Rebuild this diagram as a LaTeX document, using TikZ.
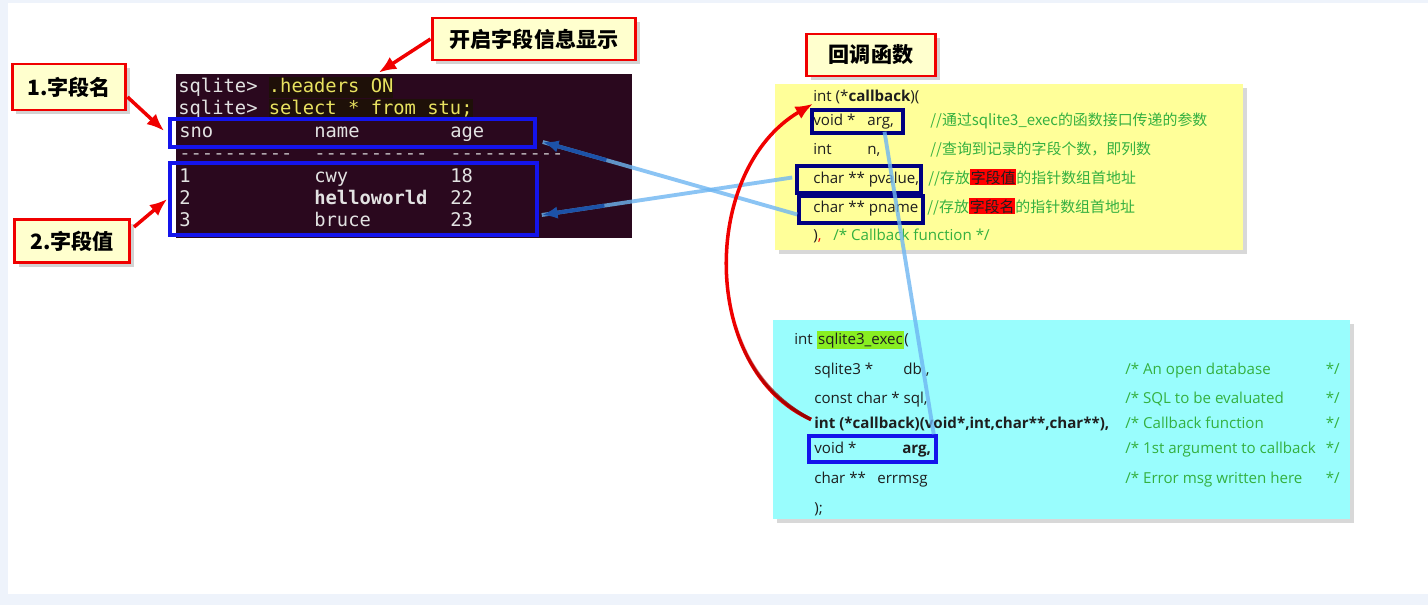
\documentclass[tikz,border=0pt]{standalone}
\usepackage{fontspec}
\setmonofont{DejaVu Sans Mono}
\newfontfamily\cjk{Noto Sans CJK SC}
\newfontfamily\codelatin{Open Sans}
\definecolor{FrameBg}{RGB}{238,243,251}
\definecolor{TermBg}{RGB}{42,8,30}
\definecolor{TermText}{RGB}{226,226,226}
\definecolor{CmdYellow}{RGB}{232,226,96}
\definecolor{CmdShade}{RGB}{30,16,8}
\definecolor{TermBlue}{RGB}{20,20,235}
\definecolor{NoteRed}{RGB}{240,0,0}
\definecolor{NoteFill}{RGB}{255,255,206}
\definecolor{CbYellow}{RGB}{255,255,153}
\definecolor{ExecCyan}{RGB}{153,253,253}
\definecolor{Navy}{RGB}{0,0,128}
\definecolor{CodeText}{RGB}{30,30,30}
\definecolor{CmtGreen}{RGB}{52,176,64}
\definecolor{HlRed}{RGB}{255,0,0}
\definecolor{LimeHl}{RGB}{136,238,34}
\definecolor{LinkBlue}{RGB}{110,182,242}
\definecolor{LinkDark}{RGB}{28,82,168}
\definecolor{DarkRed}{RGB}{150,0,0}
\usepackage{tikz}
\usetikzlibrary{positioning,calc,fit,shadows,arrows.meta,fadings}
\tikzset{>=latex}
\newcommand{\termfont}{\ttfamily\fontsize{10.7}{12}\selectfont}
\newcommand{\codefont}{\codelatin\fontsize{8.6}{10}\selectfont}
\newcommand{\cjkcodefont}{\cjk\fontsize{8.5}{10}\selectfont}
\newcommand{\notefont}{\cjk\fontsize{12}{14}\selectfont\bfseries}
\newcommand{\redhl}[1]{{\setlength{\fboxsep}{0.5pt}\colorbox{HlRed}{#1}}}
\newcommand{\cmdhl}[1]{{\setlength{\fboxsep}{0pt}\colorbox{CmdShade}{\strut\textcolor{CmdYellow}{#1}}}}
\newcommand{\limehl}[1]{{\setlength{\fboxsep}{0.8pt}\colorbox{LimeHl}{#1}}}
\tikzset{
    note/.style={draw=NoteRed, line width=1.7pt, fill=NoteFill, inner sep=0pt, font=\notefont,
        drop shadow={opacity=.35, shadow xshift=2.5pt, shadow yshift=-2.5pt}},
    noteline/.style={NoteRed, line width=2pt, -{Latex[length=10pt,width=8pt]}},
    termline/.style={anchor=base west, inner sep=0pt, font=\termfont, text=TermText},
    hlbox/.style={draw=TermBlue, line width=2pt, inner sep=0pt},
    argbox/.style={draw=Navy, line width=2pt, inner sep=0pt},
    codebox/.style={inner sep=0pt, drop shadow={opacity=.3, shadow xshift=2pt, shadow yshift=-2pt}},
    code/.style={anchor=base west, inner sep=0pt, font=\codefont, text=CodeText},
    cmt/.style={anchor=base west, inner sep=0pt, font=\codefont, text=CmtGreen},
    cjkcmt/.style={cmt, font=\cjkcodefont},
    link/.style={LinkBlue, line width=2.2pt, opacity=.8},
    linktip/.style={LinkDark, line width=2.2pt, -{Latex[length=9pt,width=7pt]}},
}
\begin{document}
\begin{tikzpicture}[x=0.02cm, y=-0.02cm]
    \fill[FrameBg] (0,0) rectangle (1428,605);
    \fill[white] (8,3) rectangle (1428,594);
    \useasboundingbox (0,0) rectangle (1428,605);

    \node[fit={(176,74) (632,238)}, fill=TermBg, inner sep=0pt] (term) {};
    \node[termline] (cmd1) at (178,92) {sqlite> \cmdhl{.headers ON}};
    \node[termline] (cmd2) at (178,114) {sqlite> \cmdhl{select * from stu;}};
    \foreach \x/\t in {179/sno, 314/name, 450/age}
        \node[termline] (col-\t) at (\x,137) {\t};
    \foreach \x [count=\i] in {179,314,450}
        \node[termline, text=TermText!80!TermBg] (dash\i) at (\x,159) {----------};
    \foreach \n/\nm/\ag [count=\i] in {1/cwy/18, 2/\textbf{helloworld}/22, 3/bruce/23}{
        \node[termline] (sno\i) at (179,{182+22*(\i-1)}) {\n};
        \node[termline] (name\i) at (314,{182+22*(\i-1)}) {\nm};
        \node[termline] (age\i) at (450,{182+22*(\i-1)}) {\ag};
    }
    \fill[TermText] (270,233) rectangle (281,236);
    \node[hlbox, fit={(170,119) (535,147)}] (hdrbox) {};
    \node[hlbox, fit={(170,163) (537,235)}] (valbox) {};

    \node[note, minimum width=4.08cm, minimum height=0.84cm] (shownote) at (534,39) {开启字段信息显示};
    \node[note, minimum width=2.28cm, minimum height=0.92cm] (namenote) at (69,87) {1.字段名};
    \node[note, minimum width=2.3cm, minimum height=0.86cm] (valnote) at (72,241) {2.字段值};
    \node[note, minimum width=2.58cm, minimum height=0.84cm] (cbnote) at (871,55) {回调函数};
    \coordinate (showtip) at ($(term.north west)+(203,-1)$);
    \coordinate (nametip) at ($(hdrbox.west)+(-4,-2)$);
    \coordinate (valtip) at ($(valbox.west)+(-1,0)$);
    \draw[noteline] (shownote.west) -- (showtip);
    \draw[noteline] ($(namenote.east)+(0,10)$) -- (nametip);
    \draw[noteline] ($(valnote.north east)+(3,9)$) -- (valtip);

    \node[codebox, fit={(775,84) (1243,250)}, fill=CbYellow] (cbbox) {};
    \node[code] (cb1) at (813,101) {int (*\textbf{callback})(};
    \node[code] (cb2) at (813,125) {void *};
    \node[code] (cb2b) at (867,125) {arg,};
    \node[code] (cb3) at (813,154) {int};
    \node[code] (cb3b) at (867,154) {n,};
    \node[code] (cb4) at (813,183) {char ** pvalue,};
    \node[code] (cb5) at (813,212) {char ** pname};
    \node[code] (cb6) at (813,240) {)\textcolor{HlRed}{,}};
    \node[cjkcmt] (cbc2) at (930,125) {//通过sqlite3\_exec的函数接口传递的参数};
    \node[cjkcmt] (cbc3) at (930,154) {//查询到记录的字段个数，即列数};
    \node[cjkcmt] (cbc4) at (928,183) {//存放\redhl{\textcolor{CodeText}{字段值}}的指针数组首地址};
    \node[cjkcmt] (cbc5) at (927,212) {//存放\redhl{\textcolor{CodeText}{字段名}}的指针数组首地址};
    \node[cmt] (cbc6) at (833,240) {/* Callback function */};
    \node[argbox, fit={(812,110) (903,133)}] (argy) {};
    \node[argbox, fit={(797,166) (921,193)}] (pvalbox) {};
    \node[argbox, fit={(799,196) (923,223)}] (pnamebox) {};

    \node[codebox, fit={(773,320) (1350,519)}, fill=ExecCyan] (execbox) {};
    \node[code] (ex1) at (794,344) {int \limehl{sqlite3\_exec}(};
    \node[code] (ex2) at (814,374) {sqlite3 *};
    \node[code] (ex2b) at (903,374) {db ,};
    \node[code] (ex3) at (814,403) {const char * sql,};
    \node[code] (ex4) at (814,428) {\textbf{int (*callback)(void*,int,char**,char**),}};
    \node[code] (ex5) at (814,453) {void *};
    \node[code] (ex5b) at (902,453) {\textbf{arg,}};
    \node[code] (ex6) at (814,483) {char **};
    \node[code] (ex6b) at (877,483) {errmsg};
    \node[code] (ex7) at (814,513) {);};
    \foreach \y/\t [count=\i] in {374/An open database, 403/SQL to be evaluated, 428/Callback function,
        453/1st argument to callback, 483/Error msg written here}{
        \node[cmt] (exc\i) at (1125,\y) {/* \t};
        \node[cmt, anchor=base east] (exe\i) at (1340,\y) {*/};
    }
    \node[hlbox, fit={(809,436) (936,462)}] (argc) {};

    \coordinate (pnamefoot) at ($(pnamebox.west)+(0,5)$);
    \coordinate (pvalfoot) at ($(pvalbox.west)+(-3,-2)$);
    \coordinate (hdrtip) at ($(hdrbox.east)+(6,9)$);
    \coordinate (rowtip) at ($(valbox.east)+(3,16)$);
    \draw[link] (pnamefoot) -- (hdrtip);
    \draw[link] (pvalfoot) -- (rowtip);
    \draw[linktip] ($(pnamefoot)!0.75!(hdrtip)$) -- (hdrtip);
    \draw[linktip] ($(pvalfoot)!0.75!(rowtip)$) -- (rowtip);
    \draw[link] ($(argc.north east)+(-4,0)$) -- ($(argy.south)+(27,-3)$);

    \draw[noteline] ($(ex4.west)+(-3,-4)$) .. controls (700,370) and (700,170) .. (cb1.south west);
    \draw[DarkRed, line width=2pt, path fading=north] ($(ex4.west)+(-3,-4)$) .. controls (771,399) and (746,364) .. (735,323);
\end{tikzpicture}
\end{document}
